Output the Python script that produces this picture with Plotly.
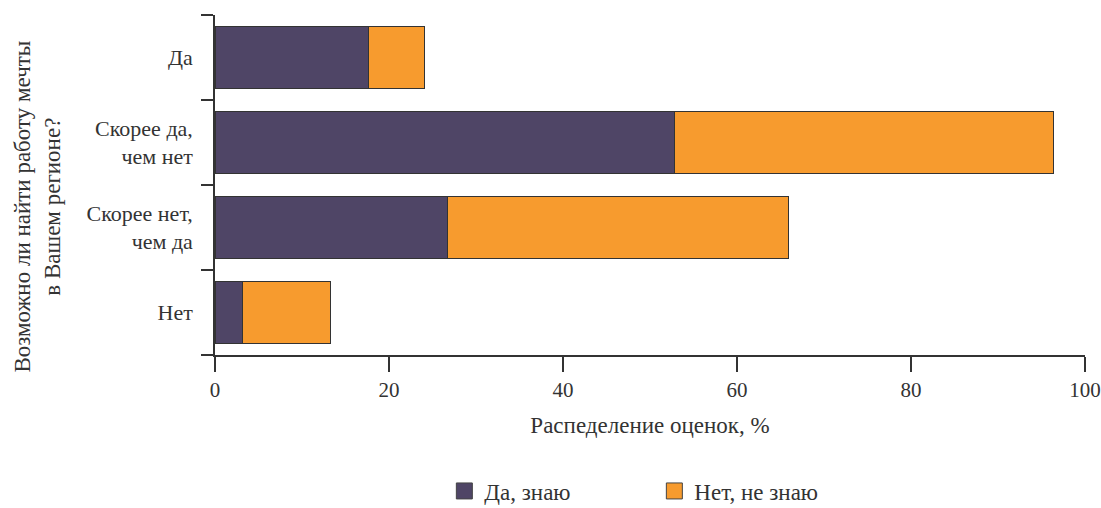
import plotly.graph_objects as go

categories = ["Да", "Скорее да,<br>чем нет", "Скорее нет,<br>чем да", "Нет"]
yes_know = [17.6, 52.8, 26.7, 3.2]
no_know = [6.5, 43.6, 39.2, 10.1]
series_names = ["Да, знаю", "Нет, не знаю"]
colors = ["#4F4566", "#F79B2E"]
y_title = "Возможно ли найти работу мечты<br>в Вашем регионе?"
x_title = "Распеделение оценок, %"

FONT = "'Liberation Serif', 'Times New Roman', serif"
fig = go.Figure()
for name, vals, col in zip(series_names, [yes_know, no_know], colors):
    fig.add_trace(go.Bar(
        y=categories, x=vals, orientation="h", name=name,
        marker=dict(color=col, line=dict(color="#333333", width=1)),
        width=0.73, showlegend=False,
    ))
for name, col in zip(series_names, colors):
    fig.add_trace(go.Scatter(
        x=[None], y=[None], mode="markers", name=name,
        marker=dict(symbol="square", size=18, color=col,
                    line=dict(color="#444444", width=1)),
    ))

fig.add_annotation(text=y_title, textangle=-90, xref="paper", yref="paper",
                   x=-0.204, y=0.435, xanchor="center", yanchor="middle",
                   showarrow=False, font=dict(size=23))

fig.update_layout(
    barmode="stack",
    width=1101, height=508,
    margin=dict(l=215, r=16, t=15, b=153, autoexpand=False),
    plot_bgcolor="white", paper_bgcolor="white",
    font=dict(family=FONT, size=21, color="#333333"),
    legend=dict(orientation="h", x=0.505, xanchor="center", y=-0.40, yanchor="middle",
                font=dict(size=23), entrywidth=165, traceorder="normal"),
    xaxis=dict(range=[0, 100], tickvals=[0, 20, 40, 60, 80, 100],
               showline=True, linecolor="#333333", linewidth=1.5,
               ticks="outside", ticklen=15, tickwidth=1.5, tickcolor="#333333",
               showgrid=False, zeroline=False, automargin=False,
               tickfont=dict(size=21),
               title=dict(text=x_title, standoff=16, font=dict(size=23))),
    yaxis=dict(categoryorder="array", categoryarray=categories[::-1],
               range=[-0.5, 3.5],
               showline=True, linecolor="#333333", linewidth=1.5,
               ticks="outside", ticklen=12, tickwidth=1.5, tickcolor="#333333",
               tickson="boundaries", showgrid=False, zeroline=False,
               ticklabelstandoff=16, automargin=False,
               tickfont=dict(size=22)),
)

fig.write_html("out.html", config={"displayModeBar": False},
               post_script="document.body.style.margin='0';")
